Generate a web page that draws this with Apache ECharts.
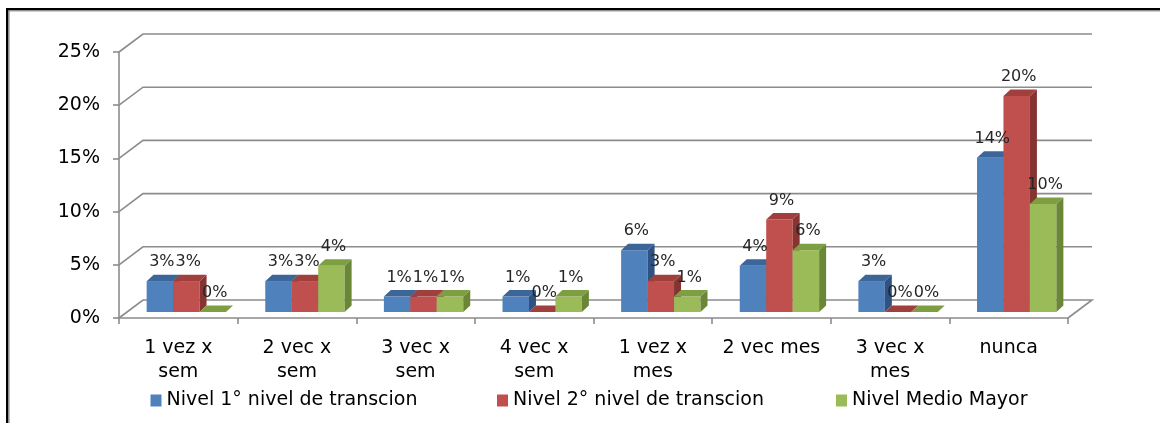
<!DOCTYPE html>
<html>
<head>
<meta charset="utf-8">
<script src="https://cdn.jsdelivr.net/npm/echarts@6/dist/echarts.min.js"></script>
<style>
  html, body { margin: 0; padding: 0; background: #fff; }
  #chart { width: 1160px; height: 423px; }
</style>
</head>
<body>
<div id="chart"></div>
<script>
// Frequency categories (x axis)
const categories = ['1 vez x\nsem', '2 vec x\nsem', '3 vec x\nsem', '4 vec x\nsem',
                    '1 vez x\nmes', '2 vec mes', '3 vec x\nmes', 'nunca'];

// Share of respondents per level, in percent
const nivel1 = [2.90, 2.90, 1.45, 1.45, 5.80, 4.35, 2.90, 14.49];
const nivel2 = [2.90, 2.90, 1.45, 0.00, 2.90, 8.70, 0.00, 20.29];
const medioMayor = [0.00, 4.35, 1.45, 1.45, 1.45, 5.80, 0.00, 10.14];

const seriesNames = ['Nivel 1° nivel de transcion', 'Nivel 2° nivel de transcion', 'Nivel Medio Mayor'];

// Value-axis ticks
const yTicks = [0, 5, 10, 15, 20, 25];

const FONT = '"DejaVu Sans", "Liberation Sans", Arial, sans-serif';

// Face colours: front, top, side
const palette = [
  { front: '#4F81BD', top: '#3C6699', side: '#2F5283' },
  { front: '#C0504D', top: '#A03F3C', side: '#863432' },
  { front: '#9BBB59', top: '#7E9E42', side: '#6A8737' }
];

// Pseudo-3D geometry
const WALL_DX = 24, WALL_DY = -18;    // depth of the floor / back wall
const FRONT_DX = 8, FRONT_DY = -6;    // bar front plane, relative to axis plane
const BAR_DX = 7, BAR_DY = -6.5;      // bar depth
const BAR_FRAC = 0.223;               // bar width as share of category band

const chart = echarts.init(document.getElementById('chart'), null, { renderer: 'canvas' });

function wallRender(params, api) {
  const cs = params.coordSys;
  const v = api.value(1);
  const y = api.coord([0, v])[1];
  const x0 = cs.x, x1 = cs.x + cs.width;
  const pts = [[x0, y], [x0 + WALL_DX, y + WALL_DY], [x1 + WALL_DX, y + WALL_DY]];
  if (v === 0) pts.push([x1, y]);
  return {
    type: 'polyline',
    shape: { points: pts },
    style: { stroke: '#8c8c8c', lineWidth: 1.6, fill: null },
    silent: true
  };
}

function makeBarRender(si) {
  const col = palette[si];
  return function (params, api) {
    const cat = api.value(0);
    const v = api.value(1);
    const base = api.coord([cat, 0]);
    const top = api.coord([cat, v]);
    const band = api.size([1, 0])[0];
    const bw = band * BAR_FRAC;
    const x0 = base[0] - 1.5 * bw + si * bw + FRONT_DX;
    const x1 = x0 + bw;
    const yb = base[1] + FRONT_DY;
    const yt = top[1] + FRONT_DY;
    const children = [];
    if (yb - yt > 0.01) {
      children.push({
        type: 'rect',
        shape: { x: x0, y: yt, width: bw, height: yb - yt },
        style: { fill: col.front }
      });
      children.push({
        type: 'polygon',
        shape: { points: [[x1, yt], [x1 + BAR_DX, yt + BAR_DY], [x1 + BAR_DX, yb + BAR_DY], [x1, yb]] },
        style: { fill: col.side }
      });
    }
    children.push({
      type: 'polygon',
      shape: { points: [[x0, yt], [x1, yt], [x1 + BAR_DX, yt + BAR_DY], [x0 + BAR_DX, yt + BAR_DY]] },
      style: { fill: col.top }
    });
    children.push({
      type: 'text',
      style: {
        text: Math.round(v) + '%',
        x: x0 + bw / 2 + 2,
        y: yt - 19,
        align: 'center',
        verticalAlign: 'middle',
        fill: '#262626',
        font: '16px ' + FONT
      },
      z2: 10
    });
    return { type: 'group', children: children };
  };
}

const valueLists = [nivel1, nivel2, medioMayor];

const series = [{
  type: 'custom',
  name: '_wall',
  renderItem: wallRender,
  data: yTicks.map(t => [0, t]),
  clip: false,
  z: 1,
  silent: true,
  tooltip: { show: false }
}];

valueLists.forEach((vals, si) => {
  series.push({
    type: 'custom',
    name: seriesNames[si],
    renderItem: makeBarRender(si),
    data: vals.map((v, i) => [i, v]),
    itemStyle: { color: palette[si].front },
    clip: false,
    z: 3
  });
});

const legendLefts = [145.5, 492, 831];

const option = {
  animation: false,
  backgroundColor: '#fff',
  grid: { left: 119, right: 92, top: 52, bottom: 105, containLabel: false },
  xAxis: {
    type: 'category',
    data: categories,
    boundaryGap: true,
    axisLine: { show: true, lineStyle: { color: '#8c8c8c', width: 1.6 } },
    axisTick: { show: true, length: 6, alignWithLabel: false, lineStyle: { color: '#8c8c8c', width: 1.6 } },
    axisLabel: {
      color: '#000', fontSize: 19, fontFamily: FONT, margin: 18, lineHeight: 24,
      interval: 0
    },
    splitLine: { show: false }
  },
  yAxis: {
    type: 'value',
    min: 0, max: 25, interval: 5,
    axisLine: { show: true, lineStyle: { color: '#8c8c8c', width: 1.6 } },
    axisTick: { show: true, length: 6, lineStyle: { color: '#8c8c8c', width: 1.6 } },
    axisLabel: { color: '#000', fontSize: 19, fontFamily: FONT, margin: 19, formatter: '{value}%' },
    splitLine: { show: false }
  },
  legend: seriesNames.map((n, i) => ({
    data: [n],
    left: legendLefts[i],
    top: 386,
    icon: 'rect',
    itemWidth: 11,
    itemHeight: 12,
    itemGap: 0,
    textStyle: { color: '#000', fontSize: 19, fontFamily: FONT },
    selectedMode: false
  })),
  graphic: [
    // outer frame
    { type: 'rect', shape: { x: 6, y: 8, width: 1154, height: 2.5 }, style: { fill: '#000' }, silent: true },
    { type: 'rect', shape: { x: 6, y: 8, width: 2.5, height: 415 }, style: { fill: '#000' }, silent: true },
    { type: 'rect', shape: { x: 8.5, y: 10.5, width: 1152, height: 1 }, style: { fill: '#a0a0a0' }, silent: true },
    { type: 'rect', shape: { x: 8.5, y: 10.5, width: 1.2, height: 413 }, style: { fill: '#a0a0a0' }, silent: true }
  ],
  series: series
};

chart.setOption(option);
</script>
</body>
</html>
